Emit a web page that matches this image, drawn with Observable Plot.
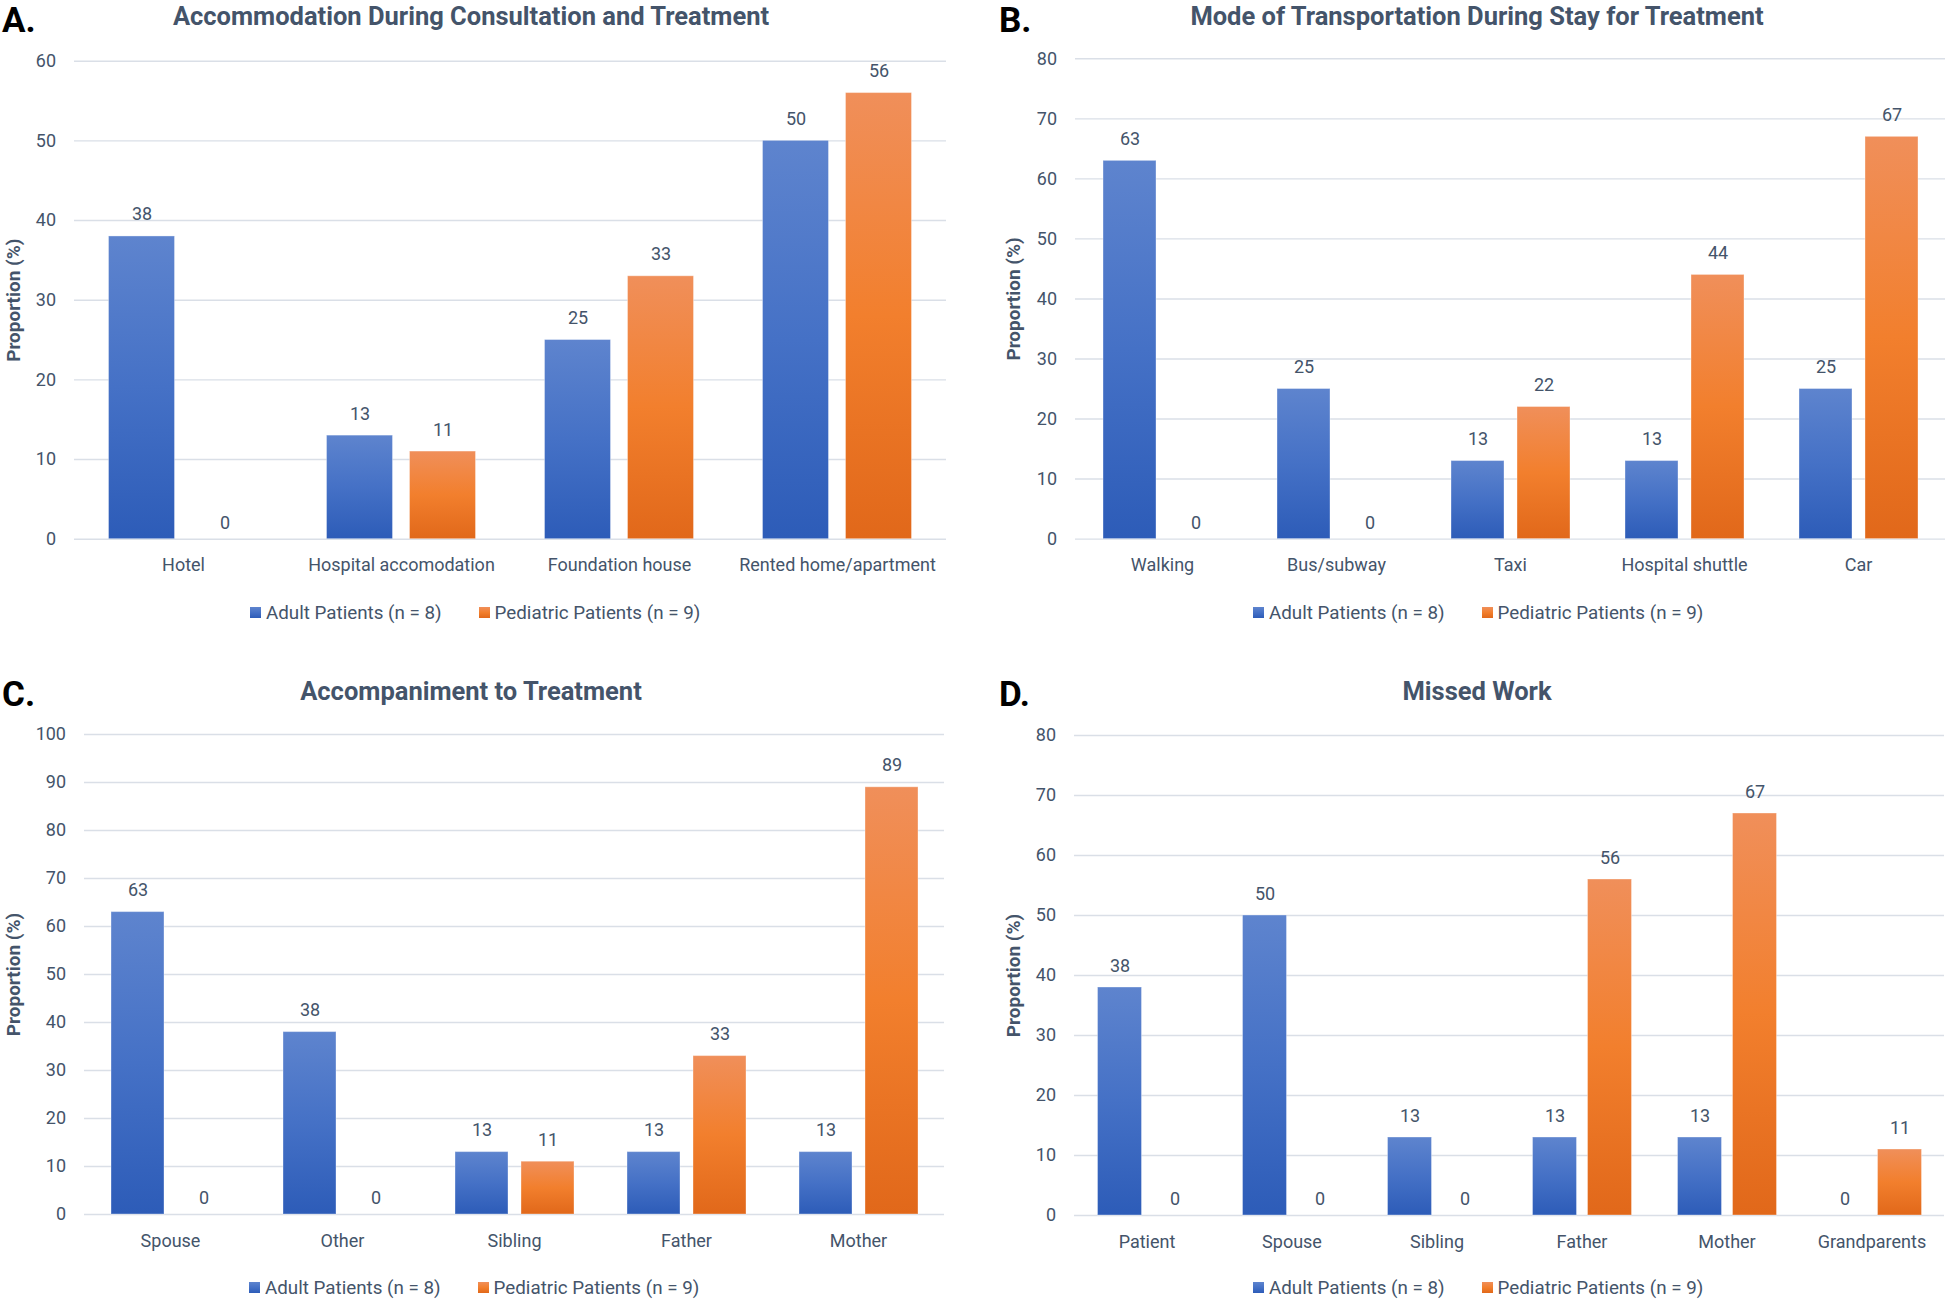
<!DOCTYPE html>
<html><head><meta charset="utf-8">
<script src="https://cdn.jsdelivr.net/npm/d3@7"></script>
<script src="https://cdn.jsdelivr.net/npm/@observablehq/plot@0.6"></script>
<style>
html,body{margin:0;padding:0;background:#fff;overflow:hidden;}
#page{position:relative;width:1946px;height:1299px;overflow:hidden;background:#fff;font-family:Roboto,"Noto Sans",sans-serif;}
.abs{position:absolute;}
.letter{font-family:Roboto,sans-serif;font-weight:700;font-size:35px;color:#000;line-height:1.2;white-space:nowrap;}
.title{font-family:Roboto,sans-serif;font-weight:700;font-size:25.5px;color:#44546a;line-height:1.2;white-space:nowrap;transform:translateX(-50%);}
.lg-swatch{margin-right:37px !important;}
.lg-swatch > svg{margin-right:5px !important;}
</style></head><body>
<svg width="0" height="0" style="position:absolute;left:0;top:0"><defs>
<linearGradient id="gBlue" x1="0" y1="0" x2="0" y2="1">
<stop offset="0" stop-color="#5e84ce"/><stop offset="0.5" stop-color="#4571c6"/><stop offset="1" stop-color="#2d5cb8"/>
</linearGradient>
<linearGradient id="gOrange" x1="0" y1="0" x2="0" y2="1">
<stop offset="0" stop-color="#f08f5a"/><stop offset="0.5" stop-color="#f27f2d"/><stop offset="1" stop-color="#e1681a"/>
</linearGradient>
</defs></svg>
<div id="page"></div>
<script>
const series = ["Adult Patients (n = 8)", "Pediatric Patients (n = 9)"];

const accomCategories = ["Hotel", "Hospital accomodation", "Foundation house", "Rented home/apartment"];
const accomAdult = [38, 13, 25, 50];
const accomPediatric = [0, 11, 33, 56];
const accomTicks = [0, 10, 20, 30, 40, 50, 60];

const transCategories = ["Walking", "Bus/subway", "Taxi", "Hospital shuttle", "Car"];
const transAdult = [63, 25, 13, 13, 25];
const transPediatric = [0, 0, 22, 44, 67];
const transTicks = [0, 10, 20, 30, 40, 50, 60, 70, 80];

const accompCategories = ["Spouse", "Other", "Sibling", "Father", "Mother"];
const accompAdult = [63, 38, 13, 13, 13];
const accompPediatric = [0, 0, 11, 33, 89];
const accompTicks = [0, 10, 20, 30, 40, 50, 60, 70, 80, 90, 100];

const workCategories = ["Patient", "Spouse", "Sibling", "Father", "Mother", "Grandparents"];
const workAdult = [38, 50, 13, 13, 13, 0];
const workPediatric = [0, 0, 0, 56, 67, 11];
const workTicks = [0, 10, 20, 30, 40, 50, 60, 70, 80];

const FONT = "Roboto, 'Noto Sans', sans-serif";
const TEXT = "#44546a";
const GRID = "#dadfe7";
const fills = ["url(#gBlue)", "url(#gOrange)"];
const page = document.getElementById("page");

function addDiv(cls, text, left, top) {
  const d = document.createElement("div");
  d.className = "abs " + cls;
  d.textContent = text;
  d.style.left = left + "px";
  d.style.top = top + "px";
  page.appendChild(d);
  return d;
}

function panel(p) {
  const data = p.cats.flatMap((c, i) => [
    {cat: c, series: series[0], value: p.adult[i]},
    {cat: c, series: series[1], value: p.ped[i]}
  ]);
  const mB = 50;
  const chart = Plot.plot({
    width: p.width,
    height: p.mT + p.innerH + mB,
    marginLeft: p.mL, marginRight: 0, marginTop: p.mT, marginBottom: mB,
    style: {fontFamily: FONT, fontSize: "18px", color: TEXT, background: "transparent", maxWidth: "none", overflow: "visible"},
    fx: {domain: p.cats, padding: 0, label: null},
    x: {domain: series, paddingInner: 0.2, paddingOuter: 0.4, axis: null},
    y: {domain: [0, p.ticks[p.ticks.length - 1]]},
    color: {domain: series, range: fills},
    marks: [
      Plot.gridY(p.ticks, {stroke: GRID, strokeOpacity: 1, strokeWidth: 1.4}),
      Plot.axisY(p.ticks, {tickSize: 0, tickPadding: 18.5, fontSize: 18, fill: TEXT, label: null}),
      Plot.axisY([], {label: "Proportion (%)", labelAnchor: "center", labelArrow: "none", labelOffset: p.labelOffset, fontWeight: "bold", fontSize: 19, fill: TEXT}),
      Plot.axisFx({anchor: "bottom", tickSize: 0, tickPadding: 19.5, fontSize: 18, fill: TEXT, label: null}),
      Plot.barY(data.filter(d => d.value > 0), {fx: "cat", x: "series", y: "value", fill: "series", stroke: "#ffffff", strokeOpacity: 0.35, strokeWidth: 1}),
      Plot.text(data.filter(d => d.value > 0), {fx: "cat", x: "series", y: "value", text: d => String(d.value), lineAnchor: "bottom", dy: -16, fill: TEXT, fontSize: 18}),
      Plot.text(data.filter(d => d.value === 0), {fx: "cat", x: "series", y: "value", text: d => String(d.value), lineAnchor: "bottom", dy: -10.5, fill: TEXT, fontSize: 18})
    ]
  });
  const wrap = document.createElement("div");
  wrap.className = "abs";
  wrap.style.left = p.left + "px";
  wrap.style.top = p.top + "px";
  wrap.appendChild(chart);
  page.appendChild(wrap);

  addDiv("letter", p.letter, p.letterX, p.letterTop);
  addDiv("title", p.title, p.titleX, p.titleTop);

  const lg = Plot.legend({
    color: {type: "ordinal", domain: series, range: fills},
    className: "lg", swatchSize: 11,
    style: {fontFamily: FONT, fontSize: "18.8px", color: TEXT, margin: "0"}
  });
  const lw = document.createElement("div");
  lw.className = "abs";
  lw.style.left = p.legendX + "px";
  lw.style.top = p.legendTop + "px";
  lw.style.whiteSpace = "nowrap";
  lw.appendChild(lg);
  page.appendChild(lw);
}

panel({letter: "A.", letterX: 2, letterTop: 0, title: "Accommodation During Consultation and Treatment", titleX: 471, titleTop: 1,
  cats: accomCategories, adult: accomAdult, ped: accomPediatric, ticks: accomTicks,
  left: 0, top: 40, width: 946, mL: 73.5, mT: 20.7, innerH: 478, labelOffset: 68, legendX: 250, legendTop: 596});

panel({letter: "B.", letterX: 999, letterTop: 0, title: "Mode of Transportation During Stay for Treatment", titleX: 1477, titleTop: 1,
  cats: transCategories, adult: transAdult, ped: transPediatric, ticks: transTicks,
  left: 980, top: 40, width: 966, mL: 93, mT: 18.3, innerH: 480.3, labelOffset: 69, legendX: 1253, legendTop: 596});

panel({letter: "C.", letterX: 2, letterTop: 674, title: "Accompaniment to Treatment", titleX: 471, titleTop: 676,
  cats: accompCategories, adult: accompAdult, ped: accompPediatric, ticks: accompTicks,
  left: 0, top: 700, width: 945, mL: 83, mT: 34, innerH: 480, labelOffset: 78, legendX: 249, legendTop: 1271});

panel({letter: "D.", letterX: 999, letterTop: 674, title: "Missed Work", titleX: 1477, titleTop: 676,
  cats: workCategories, adult: workAdult, ped: workPediatric, ticks: workTicks,
  left: 980, top: 700, width: 966, mL: 92.5, mT: 35, innerH: 480, labelOffset: 68.5, legendX: 1253, legendTop: 1271});
</script>
</body></html>
